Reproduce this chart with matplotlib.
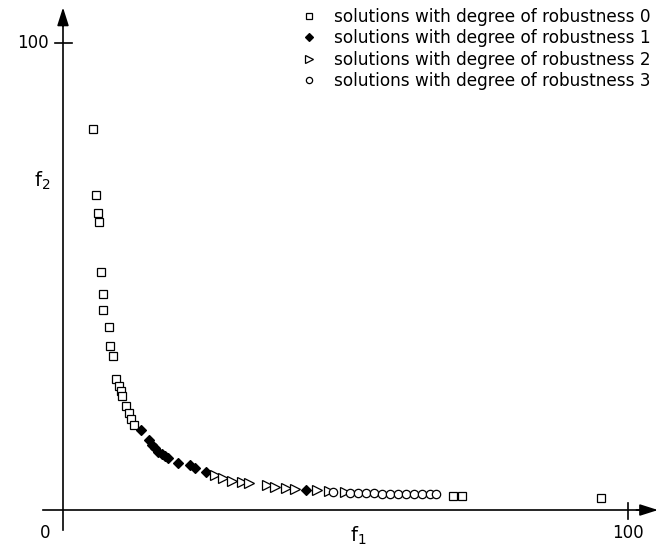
import numpy as np
import matplotlib
matplotlib.use("Agg")
import matplotlib.pyplot as plt

plt.rcParams['font.family'] = ['DejaVu Sans']

# degree of robustness 0 (open squares)
f1_r0 = [5.3, 5.8, 6.2, 6.4, 6.8, 7.1, 7.1, 8.1, 8.4, 8.8, 9.4, 9.9, 10.2, 10.5,
         11.2, 11.6, 12.0, 12.6, 69.0, 70.6, 95.3]
f2_r0 = [81.6, 67.5, 63.6, 61.7, 50.9, 46.3, 42.8, 39.2, 35.1, 33.0, 28.1, 26.6, 25.5, 24.4,
         22.3, 20.8, 19.5, 18.2, 3.0, 3.0, 2.6]

# degree 1 (filled diamonds)
f1_r1 = [13.8, 15.3, 15.7, 16.3, 16.8, 17.5, 18.1, 18.6, 20.4, 22.5, 23.4, 25.3, 43.0]
f2_r1 = [17.1, 15.0, 13.9, 13.3, 12.4, 12.0, 11.6, 11.1, 10.1, 9.6, 9.0, 8.2, 4.3]

# degree 2 (open right triangles)
f1_r2 = [26.9, 28.3, 29.9, 31.6, 32.9, 36.1, 37.5, 39.5, 41.1, 45.0, 47.1, 49.9]
f2_r2 = [7.5, 6.9, 6.2, 6.1, 5.8, 5.4, 4.9, 4.7, 4.5, 4.2, 4.0, 3.9]

# degree 3 (open circles)
f1_r3 = [47.8, 50.8, 52.2, 53.6, 55.0, 56.5, 57.9, 59.3, 60.7, 62.1, 63.5, 65.0, 66.0]
f2_r3 = [3.8, 3.7, 3.6, 3.6, 3.6, 3.5, 3.5, 3.5, 3.5, 3.4, 3.4, 3.4, 3.4]

labels = ['solutions with degree of robustness 0',
          'solutions with degree of robustness 1',
          'solutions with degree of robustness 2',
          'solutions with degree of robustness 3']

fig = plt.figure(figsize=(6.67, 5.53), dpi=100)
ax = fig.add_axes([0, 0, 1, 1])
ax.set_xlim(-11.15, 106.9)
ax.set_ylim(-9.2, 109.2)
ax.axis('off')

# axes with arrows
ax.plot([-3.5, 102], [0, 0], color='black', lw=1.2)
ax.plot([0, 0], [-4.3, 104], color='black', lw=1.2)
ax.annotate('', xy=(105.8, 0), xytext=(101, 0),
            arrowprops=dict(arrowstyle='-|>,head_length=1.1,head_width=0.35',
                            color='black', lw=1.2))
ax.annotate('', xy=(0, 108.2), xytext=(0, 103),
            arrowprops=dict(arrowstyle='-|>,head_length=1.1,head_width=0.35',
                            color='black', lw=1.2))
# ticks
ax.plot([100, 100], [-2, 1.5], color='black', lw=1.2)
ax.plot([-1.4, 1.6], [100, 100], color='black', lw=1.2)

ax.text(100, -3.0, '100', ha='center', va='top', fontsize=12)
ax.text(-2.2, -3.0, '0', ha='right', va='top', fontsize=12)
ax.text(-2.5, 100, '100', ha='right', va='center', fontsize=12)
ax.text(-2.2, 70.5, '$\\mathregular{f_2}$', ha='right', va='center', fontsize=14)
ax.text(52.3, -5.5, '$\\mathregular{f_1}$', ha='center', va='center', fontsize=14)

ax.plot(f1_r0, f2_r0, ls='none', marker='s', ms=5.3, mfc='white', mec='black', mew=0.9,
        label=labels[0])
ax.plot(f1_r1, f2_r1, ls='none', marker='D', ms=5.6, mfc='black', mec='black', mew=0.9,
        label=labels[1])
ax.plot(f1_r2, f2_r2, ls='none', marker='>', ms=6.8, mfc='white', mec='black', mew=0.9,
        label=labels[2])
ax.plot(f1_r3, f2_r3, ls='none', marker='o', ms=6.0, mfc='white', mec='black', mew=0.9,
        label=labels[3])

leg = ax.legend(loc='upper left', bbox_to_anchor=(0.4325, 1.007), frameon=False,
                fontsize=12.2, handlelength=1.0, handletextpad=0.96,
                labelspacing=0.2, markerscale=0.75, borderaxespad=0.3)

fig.savefig('out.png', dpi=100)
